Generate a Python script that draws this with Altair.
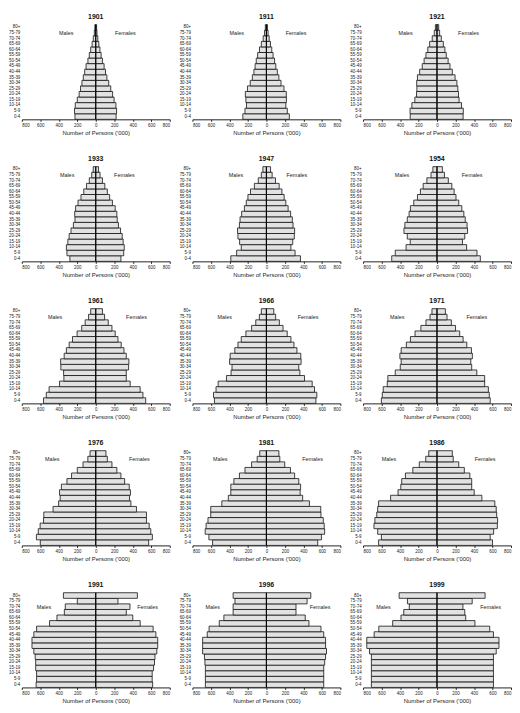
import altair as alt
import pandas as pd

ages = ["0-4", "5-9", "10-14", "15-19", "20-24", "25-29", "30-34", "35-39", "40-44",
        "45-49", "50-54", "55-59", "60-64", "65-69", "70-74", "75-79", "80+"]
years = ["1901", "1911", "1921", "1933", "1947", "1954", "1961", "1966", "1971",
         "1976", "1981", "1986", "1991", "1996", "1999"]
tick_values = [-800, -600, -400, -200, 0, 200, 400, 600, 800]

# Persons ('000), age groups 0-4 ... 80+
m1901 = [225, 230, 222, 200, 180, 165, 150, 135, 120, 105, 85, 70, 55, 40, 27, 16, 10]
f1901 = [220, 225, 218, 198, 182, 162, 140, 120, 105, 90, 72, 58, 45, 33, 22, 13, 9]
m1911 = [255, 232, 215, 222, 228, 205, 175, 152, 135, 122, 110, 95, 75, 55, 35, 20, 12]
f1911 = [248, 226, 210, 216, 215, 190, 158, 135, 118, 102, 88, 72, 58, 44, 30, 18, 12]
m1921 = [290, 292, 272, 240, 222, 218, 220, 212, 188, 160, 140, 120, 100, 80, 52, 30, 18]
f1921 = [282, 284, 265, 238, 232, 225, 215, 195, 165, 140, 120, 100, 85, 68, 46, 28, 18]
m1933 = [280, 312, 318, 302, 288, 268, 242, 225, 228, 218, 192, 160, 130, 100, 70, 44, 28]
f1933 = [272, 302, 308, 296, 286, 268, 245, 232, 228, 210, 180, 150, 125, 98, 72, 46, 30]
m1947 = [385, 322, 272, 290, 308, 312, 292, 285, 268, 238, 218, 200, 172, 130, 88, 55, 38]
f1947 = [368, 310, 265, 285, 302, 305, 288, 280, 262, 235, 210, 192, 168, 138, 98, 62, 45]
m1954 = [490, 452, 335, 290, 322, 358, 348, 322, 302, 288, 252, 212, 180, 150, 110, 65, 45]
f1954 = [468, 432, 320, 275, 300, 330, 325, 305, 290, 268, 235, 205, 185, 160, 122, 80, 58]
m1961 = [565, 535, 505, 392, 345, 348, 378, 380, 342, 318, 288, 252, 202, 152, 115, 78, 55]
f1961 = [540, 510, 480, 372, 330, 330, 355, 358, 330, 305, 275, 240, 210, 175, 135, 95, 72]
m1966 = [562, 572, 545, 522, 432, 382, 372, 398, 392, 342, 308, 272, 222, 160, 115, 76, 55]
f1966 = [535, 545, 520, 495, 412, 362, 350, 375, 372, 330, 298, 265, 225, 180, 140, 100, 80]
m1971 = [602, 592, 582, 538, 532, 452, 398, 388, 402, 388, 332, 288, 238, 175, 120, 76, 55]
f1971 = [575, 565, 555, 515, 515, 430, 375, 365, 382, 372, 322, 282, 245, 200, 155, 108, 90]
m1976 = [600, 642, 622, 602, 565, 562, 462, 402, 385, 392, 372, 312, 262, 200, 138, 86, 62]
f1976 = [572, 612, 595, 578, 548, 548, 440, 380, 365, 375, 362, 312, 272, 228, 175, 125, 110]
m1981 = [582, 622, 662, 652, 632, 602, 602, 482, 412, 385, 385, 352, 292, 232, 160, 100, 72]
f1981 = [555, 595, 630, 625, 615, 590, 588, 465, 392, 365, 370, 350, 305, 260, 198, 145, 135]
m1986 = [632, 602, 642, 682, 672, 652, 642, 632, 502, 422, 392, 382, 342, 262, 192, 122, 90]
f1986 = [600, 575, 612, 652, 655, 645, 640, 625, 485, 402, 375, 375, 355, 295, 235, 175, 165]
m1991 = [645, 640, 640, 650, 650, 655, 670, 690, 690, 670, 640, 500, 420, 340, 330, 200, 350]
f1991 = [615, 610, 610, 625, 635, 640, 660, 670, 670, 650, 620, 480, 400, 330, 370, 240, 450]
m1996 = [660, 660, 660, 660, 665, 670, 690, 690, 690, 640, 620, 510, 460, 360, 360, 340, 360]
f1996 = [620, 620, 620, 620, 630, 640, 650, 640, 640, 620, 590, 460, 420, 320, 320, 440, 480]
m1999 = [710, 710, 710, 710, 710, 710, 730, 760, 760, 680, 630, 480, 390, 360, 300, 320, 410]
f1999 = [610, 610, 610, 610, 610, 610, 640, 670, 670, 610, 570, 410, 310, 300, 280, 380, 520]

males = [m1901, m1911, m1921, m1933, m1947, m1954, m1961, m1966, m1971,
         m1976, m1981, m1986, m1991, m1996, m1999]
females = [f1901, f1911, f1921, f1933, f1947, f1954, f1961, f1966, f1971,
           f1976, f1981, f1986, f1991, f1996, f1999]

# where the "Males" / "Females" labels sit ('000 from centre, age row)
label_dist = [320, 320, 340, 310, 330, 380, 440, 450, 430, 470, 500, 520, 560, 580, 580]
label_age = ["75-79", "75-79", "75-79", "75-79", "75-79", "75-79", "75-79", "75-79", "75-79",
             "75-79", "75-79", "75-79", "70-74", "70-74", "70-74"]

order = ages[::-1]

X_AXIS = alt.Axis(values=tick_values, labelExpr="abs(datum.value)", labelOverlap=False,
                  title="Number of Persons ('000)", labelFontSize=4.5,
                  titleFontSize=6, titleFontWeight="normal", tickSize=2,
                  labelPadding=1, titlePadding=3, grid=False,
                  domainColor="#222", tickColor="#222", labelColor="#222",
                  titleColor="#222")
Y_AXIS = alt.Axis(title=None, domain=False, ticks=False, labelFontSize=4.5,
                  labelPadding=2, labelColor="#222")


def panel(year, m, f, ld, la):
    x = alt.X("value:Q", stack=None, scale=alt.Scale(domain=[-800, 800], nice=False),
              axis=X_AXIS)
    y = alt.Y("age:N", sort=order, scale=alt.Scale(paddingInner=0, paddingOuter=0),
              axis=Y_AXIS)
    df = pd.DataFrame({"age": ages + ages, "value": [-v for v in m] + list(f)})
    bars = alt.Chart(df).mark_bar(fill="#e2e2e2", stroke="#111", strokeWidth=0.8).encode(x=x, y=y)
    rule = alt.Chart(pd.DataFrame({"value": [0]})).mark_rule(
        color="black", strokeWidth=1).encode(x=x)
    lab = alt.Chart(pd.DataFrame({"value": [-ld, ld], "age": [la, la],
                                  "t": ["Males", "Females"]})).mark_text(
        fontSize=5.5, color="#222").encode(x=x, y=y, text="t:N")
    return alt.layer(bars, rule, lab).properties(
        width=150, height=96,
        title=alt.TitleParams(year, fontSize=7, fontWeight="bold", offset=4, color="#111"))


panels = [panel(years[i], males[i], females[i], label_dist[i], label_age[i]) for i in range(15)]
rows = [alt.hconcat(*panels[r * 3:(r + 1) * 3], spacing=8) for r in range(5)]
chart = alt.vconcat(*rows, spacing=19).properties(
    padding={"left": 0, "top": 0, "right": 0, "bottom": 0}
).configure(font="Liberation Sans").configure_view(stroke=None)

chart.save("out.html", embed_options={"renderer": "svg", "actions": False})
